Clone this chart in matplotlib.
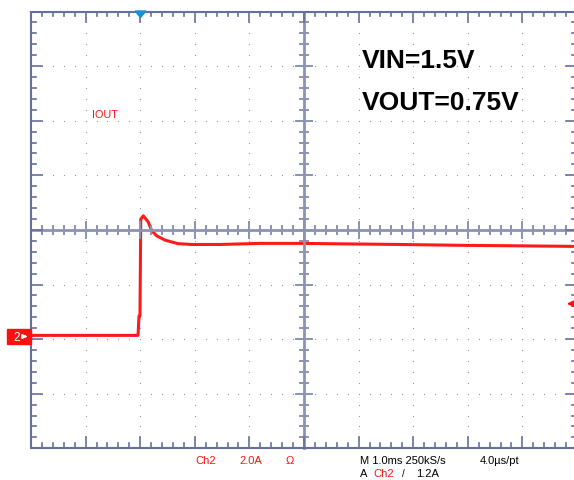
import numpy as np
import matplotlib
matplotlib.use("Agg")
import matplotlib.pyplot as plt
from matplotlib.patches import Polygon, Rectangle

plt.rcParams['font.family'] = ['Liberation Sans', 'DejaVu Sans']

# scope settings
ms_per_div = 1.0
amp_per_div = 2.0
trig_div = -3.0        # trigger point, divisions from screen centre
gnd_div = -1.952       # ch2 ground level, divisions from screen centre
trig_level = 1.2       # A

# ch2 current trace (ms, A)
time_ms = [-2.0, -0.04, -0.022, -0.004, 0.01, 0.057, 0.148, 0.21, 0.30, 0.454,
           0.692, 0.943, 1.46, 2.19, 2.93, 3.84, 4.76, 5.86, 6.96, 7.95]
iout_a = [0.04, 0.04, 0.75, 0.75, 4.30, 4.42, 4.19, 3.88, 3.69, 3.53,
          3.40, 3.37, 3.37, 3.41, 3.41, 3.39, 3.37, 3.34, 3.32, 3.30]

# screen geometry (pixels of the 574x481 picture)
W, H = 574, 481
left_px, top_px, div_px = 31.0, 12.5, 54.6


def px_x(px):
    return -5 + (px - left_px) / div_px


def px_y(py):
    return 4 - (py - top_px) / div_px


fig = plt.figure(figsize=(W / 100, H / 100), dpi=100)
ax = fig.add_axes([0, 0, 1, 1])
ax.set_xlim(px_x(0), px_x(W))
ax.set_ylim(px_y(H), px_y(0))
ax.axis('off')

border_c = '#65709a'
centre_c = '#8a93b3'
dot_c = '#8e97b5'

# dotted graticule
minor = np.round(np.arange(-5, 5.01, 0.2), 2)
minor_y = np.round(np.arange(-4, 4.01, 0.2), 2)
for k in range(-4, 5):
    if k == 0:
        continue
    xs = [m for m in minor if -5 < m < 5]
    ax.plot(xs, [k] * len(xs), ls='none', marker='s', ms=0.75, mew=0,
            color=dot_c, zorder=1)
for k in range(-4, 5):
    if k == 0:
        continue
    ys = [m for m in minor_y if -4 < m < 4]
    ax.plot([k] * len(ys), ys, ls='none', marker='s', ms=0.75, mew=0,
            color=dot_c, zorder=1)

# trace
tx = [t / ms_per_div + trig_div for t in time_ms]
ty = [i / amp_per_div + gnd_div for i in iout_a]
ax.plot(tx, ty, color='#ff1a1a', lw=2.2, solid_joinstyle='round', zorder=2)

# centre crosshair
ax.plot([-5, 5], [0, 0], color=centre_c, lw=2.0, zorder=3)
ax.plot([0, 0], [-4, 4], color=centre_c, lw=2.0, zorder=3)
for m in minor:
    h = 0.15 if abs(m - round(m)) < 1e-6 else 0.08
    ax.plot([m, m], [-h, h], color=centre_c, lw=1.4, zorder=3)
for m in minor_y:
    h = 0.15 if abs(m - round(m)) < 1e-6 else 0.08
    ax.plot([-h, h], [m, m], color=centre_c, lw=1.4, zorder=3)

# border with inward ticks
ax.plot([-5, 5, 5, -5, -5], [4, 4, -4, -4, 4], color=border_c, lw=1.5, zorder=4)
for m in minor:
    h = 0.2 if abs(m - round(m)) < 1e-6 else 0.09
    ax.plot([m, m], [4, 4 - h], color=border_c, lw=1.2, zorder=4)
    ax.plot([m, m], [-4, -4 + h], color=border_c, lw=1.2, zorder=4)
for m in minor_y:
    h = 0.2 if abs(m - round(m)) < 1e-6 else 0.09
    ax.plot([-5, -5 + h], [m, m], color=border_c, lw=1.2, zorder=4)
    ax.plot([5, 5 - h], [m, m], color=border_c, lw=1.2, zorder=4)

# trigger position marker
tri = Polygon([(px_x(135), px_y(12)), (px_x(146), px_y(12)), (px_x(140.5), px_y(18.5))],
              closed=True, color='#1a90d8', zorder=5)
ax.add_patch(tri)

# ch2 ground marker
ax.add_patch(Rectangle((px_x(7.3), px_y(344.5)), px_x(31) - px_x(7.3),
                       px_y(330) - px_y(344.5), color='#ff1010', zorder=5))
ax.text(px_x(13.0), gnd_div - 0.01, '2', color='white', fontsize=8.5, va='center', zorder=6)
ax.annotate('', xy=(px_x(30), gnd_div), xytext=(px_x(21.5), gnd_div),
            arrowprops=dict(arrowstyle='-|>', color='white', lw=1.2,
                            mutation_scale=6), zorder=6)

# trigger level marker on the right
lvl = trig_level / amp_per_div + gnd_div
ax.annotate('', xy=(px_x(564), lvl), xytext=(px_x(576), lvl),
            arrowprops=dict(arrowstyle='-|>', color='#ff1010', lw=1.4,
                            mutation_scale=8), zorder=6)


def label(x, y, s, color='black', size=8, weight='normal'):
    fig.text(x / W, 1 - y / H, s, color=color, fontsize=size, fontweight=weight,
             va='baseline', ha='left')


label(92, 118.3, 'IOUT', color='#ff1010', size=7.8)
label(362, 68.3, 'VIN=1.5V', size=19, weight='bold')
label(362, 110, 'VOUT=0.75V', size=19, weight='bold')

label(195, 464.5, 'Ch2', color='#ff1010')
label(239, 464.5, '2.0A', color='#ff1010')
label(286, 464.5, 'Ω', color='#ff1010')
label(360, 464.5, 'M 1.0ms 250kS/s')
label(480, 464.5, '4.0µs/pt')
label(360, 477.5, 'A')
label(373, 477.5, 'Ch2', color='#ff1010')
label(402, 477.5, '/', size=7)
label(416.5, 477.5, '1.2A')

fig.savefig('out.png', dpi=100, facecolor='white')
